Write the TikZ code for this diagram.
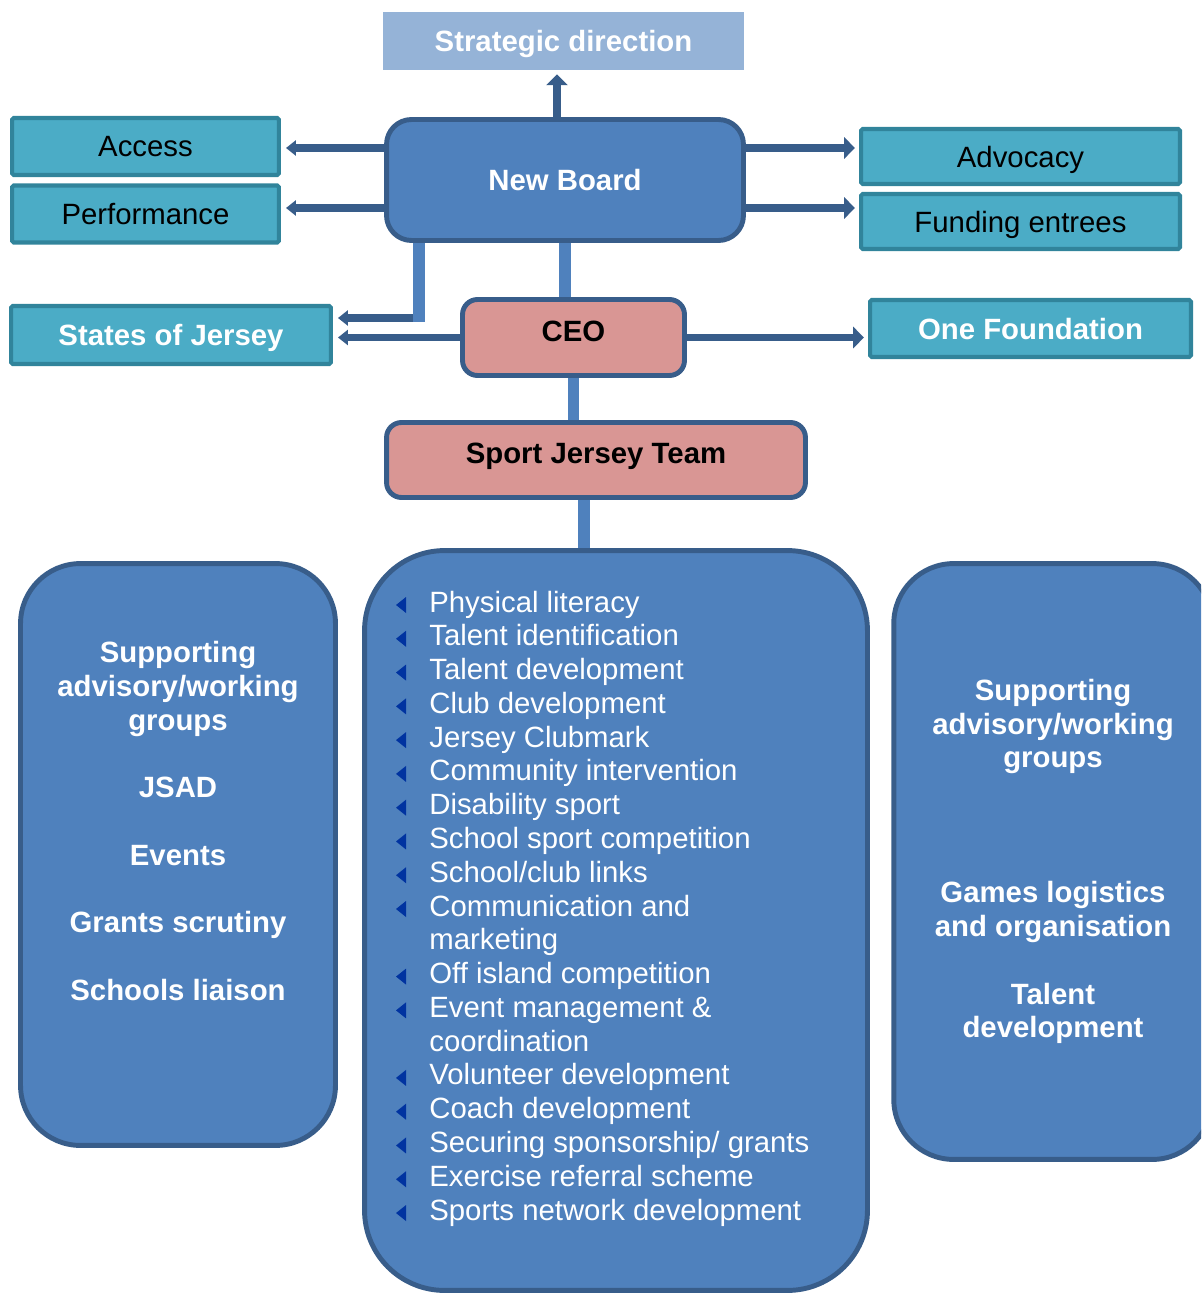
\documentclass[tikz,border=0pt]{standalone}
\usepackage{fontspec}
\setmainfont{Liberation Sans}
\usetikzlibrary{arrows.meta}
\definecolor{boardblue}{HTML}{4F81BD}
\definecolor{edgeblue}{HTML}{385D8A}
\definecolor{aquafill}{HTML}{4BACC6}
\definecolor{aquaedge}{HTML}{31849B}
\definecolor{rosefill}{HTML}{D99694}
\definecolor{palefill}{HTML}{95B3D7}
\definecolor{bulletblue}{HTML}{0033A0}
\newcommand{\boxfont}{\fontsize{16.7}{19.2}\selectfont}

\begin{document}
\begin{tikzpicture}[x=0.02cm,y=-0.02cm,
   every node/.style={font=\boxfont},
   tab/.style={draw=aquaedge,fill=aquafill,line width=2.3pt,rounded corners=1pt,
     text depth=0pt,minimum width=5.34cm,minimum height=1.14cm},
   head/.style={draw=edgeblue,fill=rosefill,line width=2.8pt,rounded corners=0.3cm,
     minimum height=1.5cm,font=\boxfont\bfseries},
   panel/.style={draw=edgeblue,fill=boardblue,line width=2.8pt,text=white,
     align=center,font=\boxfont\bfseries},
   link/.style={boardblue,line width=6.8pt},
   arrR/.style={edgeblue,line width=4.5pt,shorten >=0.08cm,
     -{Triangle[width=12pt,length=6.2pt]}},
   arrL/.style={edgeblue,line width=4.5pt,shorten >=0.1cm,
     -{Triangle[width=8.5pt,length=5.6pt]}}]
   \useasboundingbox (0,0) rectangle (1201,1294);
   \clip (0,0) rectangle (1201,1294);

   \node[fill=palefill,minimum width=7.22cm,minimum height=1.16cm,text=white,
     text depth=0pt,font=\boxfont\bfseries] (strat) at (563.5,41) {Strategic direction};
   \node[panel,rounded corners=0.5cm,minimum width=7.14cm,minimum height=2.42cm]
     (board) at (565,180) {New Board};
   \node[tab] (access) at (145.5,146.5) {Access};
   \node[tab] (perf) at (145.5,214) {Performance};
   \node[tab,minimum width=6.38cm,minimum height=1.1cm] (advoc) at (1020.5,156.5) {Advocacy};
   \node[tab,minimum width=6.38cm,minimum height=1.1cm] (fund) at (1020.5,221.5) {Funding entrees};
   \node[tab,minimum width=6.4cm,minimum height=1.16cm,text=white,font=\boxfont\bfseries]
     (states) at (171,335) {States of Jersey};
   \node[tab,minimum width=6.42cm,text=white,font=\boxfont\bfseries]
     (found) at (1030.5,328.5) {One Foundation};
   \node[head,minimum width=4.44cm,minimum height=1.52cm] (ceo) at (573.5,337.5)
     {\raisebox{0.26cm}{CEO}};
   \node[head,minimum width=8.38cm] (team) at (596,460) {\raisebox{0.26cm}{Sport Jersey Team}};

   \node[panel,rounded corners=1.2cm,minimum width=6.3cm,minimum height=11.64cm]
     (left) at (178,854.5) {};
   \node[text=white,align=center,font=\boxfont\bfseries] (lefttext) at (178,821)
     {Supporting\\advisory/working\\groups\\[19.2pt]JSAD\\[19.2pt]Events\\[19.2pt]Grants scrutiny\\[19.2pt]Schools liaison};
   \node[panel,rounded corners=1.6cm,minimum width=10.06cm,minimum height=14.8cm]
     (mid) at (616,920.5) {};
   \node[panel,rounded corners=1.2cm,minimum width=6.37cm,minimum height=11.92cm]
     (right) at (1053,861.5)
     {Supporting\\advisory/working\\groups\\[57.6pt]Games logistics\\and organisation\\[19.2pt]Talent\\development};

   \foreach \txt [count=\i from 0] in {Physical literacy,Talent identification,
     Talent development,Club development,Jersey Clubmark,Community intervention,
     Disability sport,School sport competition,School/club links,Communication and,
     marketing,Off island competition,Event management \&,coordination,
     Volunteer development,Coach development,Securing sponsorship/ grants,
     Exercise referral scheme,Sports network development}
     \node[anchor=base west,inner sep=0pt,text=white] (item\i) at (429,612+33.78*\i) {\txt};
   \foreach \i in {0,1,2,3,4,5,6,7,8,9,11,12,14,15,16,17,18}
     \fill[bulletblue] ([xshift=-0.66cm,yshift=0.14cm]item\i.base west)
       -- ++(0.2cm,0.16cm) -- ++(0,-0.32cm) -- cycle;

   \draw[arrR] ([xshift=-0.16cm]board.north) -- ([xshift=-0.16cm]board.north |- strat.south);
   \draw[arrL] (board.west |- 0,148) -- (access.east |- 0,148);
   \draw[arrL] (board.west |- 0,208) -- (perf.east |- 0,208);
   \draw[arrR] (board.east |- 0,148) -- (advoc.west |- 0,148);
   \draw[arrR] (board.east |- 0,208) -- (fund.west |- 0,208);
   \coordinate (bend) at (419,318);
   \draw[arrL] ([xshift=-0.12cm]bend) -- (states.east |- bend);
   \draw[link] (board.south -| bend) -- ([yshift=-0.08cm]bend);
   \draw[arrL] (ceo.west) -- (ceo.west -| states.east);
   \draw[arrR] (ceo.east) -- (ceo.east -| found.west);
   \draw[link] (board.south) -- (board.south |- ceo.north);
   \draw[link] (ceo.south) -- (ceo.south |- team.north);
   \draw[link] ([xshift=-0.24cm]team.south) -- ([xshift=-0.24cm]team.south |- mid.north);
\end{tikzpicture}
\end{document}
